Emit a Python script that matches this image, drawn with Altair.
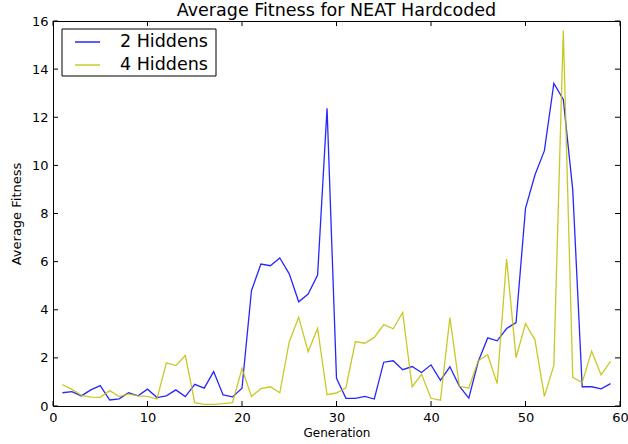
import altair as alt
import pandas as pd

generations = list(range(1, 60))
hidden2 = [0.55, 0.6, 0.42, 0.67, 0.85, 0.25, 0.3, 0.55, 0.42, 0.7,
           0.35, 0.42, 0.67, 0.39, 0.9, 0.74, 1.43, 0.46, 0.38, 0.74,
           4.79, 5.9, 5.83, 6.15, 5.49, 4.33, 4.65, 5.44, 12.37, 1.15,
           0.32, 0.32, 0.4, 0.29, 1.82, 1.88, 1.51, 1.64, 1.39, 1.71,
           1.07, 1.63, 0.83, 0.33, 1.85, 2.83, 2.71, 3.22, 3.47, 8.21,
           9.6, 10.61, 13.41, 12.74, 8.98, 0.8, 0.8, 0.71, 0.93]
hidden4 = [0.89, 0.69, 0.44, 0.37, 0.36, 0.64, 0.39, 0.5, 0.42, 0.4,
           0.29, 1.79, 1.68, 2.1, 0.14, 0.07, 0.07, 0.1, 0.14, 1.56,
           0.4, 0.72, 0.8, 0.55, 2.67, 3.69, 2.26, 3.22, 0.47, 0.54,
           0.76, 2.68, 2.61, 2.85, 3.38, 3.21, 3.89, 0.8, 1.32, 0.32,
           0.24, 3.67, 0.82, 0.75, 1.88, 2.13, 0.93, 6.11, 2.01, 3.42,
           2.75, 0.4, 1.69, 15.6, 1.19, 0.97, 2.28, 1.29, 1.85]
series_names = ["2 Hiddens", "4 Hiddens"]
series_colors = ["#0000ff", "#bfbf00"]
x_ticks = [0, 10, 20, 30, 40, 50, 60]
y_ticks = [0, 2, 4, 6, 8, 10, 12, 14, 16]

df = pd.DataFrame({
    "Generation": generations * 2,
    "Fitness": hidden2 + hidden4,
    "Series": [series_names[0]] * len(generations) + [series_names[1]] * len(generations),
})

W, H = 567, 385
FONT = "DejaVu Sans"

xs = alt.Scale(domain=[0, 60], nice=False)
ys = alt.Scale(domain=[0, 16], nice=False)
cs = alt.Scale(domain=series_names, range=series_colors)

x_axis = alt.Axis(values=x_ticks, ticks=False, grid=False, labelPadding=5,
                  labelFontSize=13, titleFontSize=12, titleFontWeight="normal",
                  titlePadding=3, domainColor="black", labelColor="black",
                  format="d", labelFlush=False, labelFont=FONT, titleFont=FONT)
y_axis = alt.Axis(values=y_ticks, ticks=False, grid=False, labelPadding=5,
                  labelFontSize=13, titleFontSize=13, titleFontWeight="normal",
                  titlePadding=8, domainColor="black", labelColor="black",
                  format="d", labelFlush=False, labelFont=FONT, titleFont=FONT)

lines = alt.Chart(df).mark_line(strokeWidth=1.3, opacity=0.85).encode(
    x=alt.X("Generation:Q", scale=xs, title="Generation", axis=x_axis),
    y=alt.Y("Fitness:Q", scale=ys, title="Average Fitness", axis=y_axis),
    color=alt.Color("Series:N", scale=cs, legend=None),
    detail="Series:N",
)

xt = pd.DataFrame({"t": x_ticks})
yt = pd.DataFrame({"t": y_ticks})
tick_len = 5
xb = alt.Chart(xt).mark_rule(color="black").encode(
    x=alt.X("t:Q", scale=xs, title="Generation", axis=x_axis),
    y=alt.value(H), y2=alt.value(H - tick_len))
xtp = alt.Chart(xt).mark_rule(color="black").encode(
    x=alt.X("t:Q", scale=xs, title="Generation", axis=x_axis),
    y=alt.value(0), y2=alt.value(tick_len))
yl = alt.Chart(yt).mark_rule(color="black").encode(
    y=alt.Y("t:Q", scale=ys, title="Average Fitness", axis=y_axis),
    x=alt.value(0), x2=alt.value(tick_len))
yr = alt.Chart(yt).mark_rule(color="black").encode(
    y=alt.Y("t:Q", scale=ys, title="Average Fitness", axis=y_axis),
    x=alt.value(W), x2=alt.value(W - tick_len))

# manual legend (matplotlib-style box in upper left)
leg_box = alt.Chart(pd.DataFrame({"a": [0]})).mark_rect(
    fill="white", stroke="black", strokeWidth=1
).encode(x=alt.value(9), x2=alt.value(163), y=alt.value(8), y2=alt.value(55))

legend_layers = [leg_box]
for i, name in enumerate(series_names):
    row_df = pd.DataFrame({"Series": [name]})
    legend_layers.append(
        alt.Chart(row_df).mark_rule(strokeWidth=1.5, opacity=0.85).encode(
            x=alt.value(22), x2=alt.value(47), y=alt.value(21 + 23 * i),
            color=alt.Color("Series:N", scale=cs, legend=None))
    )
    legend_layers.append(
        alt.Chart(row_df).mark_text(
            align="left", baseline="middle", fontSize=17.5, font=FONT, color="black"
        ).encode(x=alt.value(67), y=alt.value(21 + 23 * i), text="Series:N")
    )

chart = alt.layer(xb, xtp, yl, yr, lines, *legend_layers).properties(
    width=W, height=H,
    title=alt.Title("Average Fitness for NEAT Hardcoded", fontSize=17.5,
                    fontWeight="normal", font=FONT, offset=4, dy=22,
                    baseline="alphabetic", color="black"),
    autosize=alt.AutoSizeParams(type="none"),
    padding={"left": 53, "top": 21, "right": 8, "bottom": 38},
).configure(font=FONT).configure_view(
    stroke="black", strokeWidth=1
).configure_axis(labelFont=FONT, titleFont=FONT)

chart.save("out.html", embed_options={"renderer": "svg", "actions": False})
